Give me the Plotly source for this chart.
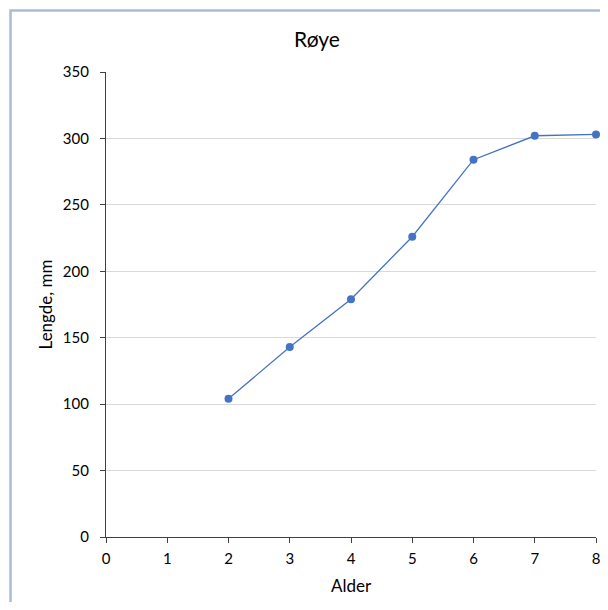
import plotly.graph_objects as go

alder = [2, 3, 4, 5, 6, 7, 8]
lengde = [104, 143, 179, 226, 284, 302, 303]
x_ticks = [0, 1, 2, 3, 4, 5, 6, 7, 8]
y_ticks = [0, 50, 100, 150, 200, 250, 300, 350]

FONT = "Lato, 'Open Sans', sans-serif"
OFF = 8  # default body margin of the html page
W, H = 608 - OFF, 610 - 2 * OFF
PX0, PX1, PY0, PY1 = 106, 596, 72, 537  # target plot area in window pixels
L = PX0 - OFF
T = PY0 - OFF
R = W - (PX1 - OFF)
B = H - (PY1 - OFF)
pw = W - L - R
ph = H - T - B

fig = go.Figure()
fig.add_trace(go.Scatter(
    x=alder, y=lengde, mode="lines+markers",
    line=dict(color="#4472C4", width=1.3),
    marker=dict(color="#4472C4", size=8),
    cliponaxis=False, showlegend=False,
))

def px_to_paper_x(px):
    return (px - PX0) / pw

def px_to_paper_y(py):
    return (PY1 - py) / ph

fig.add_shape(type="rect", xref="paper", yref="paper",
              x0=px_to_paper_x(10.5), x1=px_to_paper_x(660),
              y0=px_to_paper_y(680), y1=px_to_paper_y(10.5),
              line=dict(color="#a9bcd2", width=2.5), layer="below")

fig.update_layout(
    width=W, height=H,
    margin=dict(l=L, r=R, t=T, b=B, autoexpand=False),
    paper_bgcolor="white", plot_bgcolor="white",
    font=dict(family=FONT, size=15, color="#000000"),
    title=dict(text="Røye", x=(317 - OFF) / W, xanchor="center",
               y=1 - (40 - OFF) / H, yanchor="middle",
               font=dict(family=FONT, size=21, color="#000000")),
    xaxis=dict(range=[0, 8], tickvals=x_ticks, ticktext=[str(v) for v in x_ticks],
               showgrid=False, zeroline=False, automargin=False,
               showline=True, linecolor="#404040", linewidth=1.3,
               ticks="outside", ticklen=5, tickcolor="#404040", tickwidth=1,
               ticklabelstandoff=3,
               title=dict(text="Alder", font=dict(family=FONT, size=17), standoff=13),
               tickfont=dict(family=FONT, size=15)),
    yaxis=dict(range=[0, 350], tickvals=y_ticks, ticktext=[str(v) for v in y_ticks],
               showgrid=True, gridcolor="#d9d9d9", gridwidth=1, zeroline=False,
               automargin=False,
               showline=True, linecolor="#404040", linewidth=1.3,
               ticks="outside", ticklen=5, tickcolor="#404040", tickwidth=1,
               ticklabelstandoff=8,
               title=dict(text="Lengde, mm", font=dict(family=FONT, size=17), standoff=5),
               tickfont=dict(family=FONT, size=15)),
)

fig.write_html("out.html")
